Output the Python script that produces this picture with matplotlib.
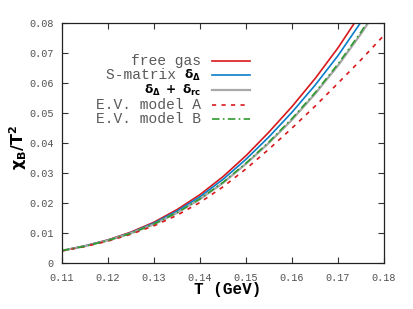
import matplotlib
matplotlib.use("Agg")
import matplotlib.pyplot as plt
from matplotlib.lines import Line2D

# ---- data ----
T = [0.110, 0.115, 0.120, 0.125, 0.130, 0.135, 0.140, 0.145, 0.150,
     0.155, 0.160, 0.165, 0.170, 0.175, 0.180]
free_gas = [0.0041, 0.0057, 0.0077, 0.0103, 0.0136, 0.0178, 0.0228, 0.0288,
            0.0358, 0.0437, 0.0522, 0.0615, 0.0718, 0.0834, 0.0964]
smatrix = [0.0041, 0.0057, 0.0076, 0.0101, 0.0133, 0.0173, 0.0221, 0.0279,
           0.0346, 0.0421, 0.0503, 0.0593, 0.0692, 0.0804, 0.0930]
delta_rc = [0.0041, 0.0056, 0.0075, 0.0099, 0.0129, 0.0167, 0.0213, 0.0267,
            0.0331, 0.0401, 0.0478, 0.0564, 0.0659, 0.0765, 0.0882]
ev_A = [0.0040, 0.0055, 0.0073, 0.0096, 0.0124, 0.0159, 0.0202, 0.0254,
        0.0314, 0.0380, 0.0450, 0.0523, 0.0600, 0.0678, 0.0760]
ev_B = [0.0041, 0.0056, 0.0075, 0.0099, 0.0130, 0.0168, 0.0214, 0.0269,
        0.0333, 0.0404, 0.0482, 0.0568, 0.0664, 0.0771, 0.0890]

labels_plain = ["free gas", "S-matrix ", "", "E.V. model A", "E.V. model B"]
labels_math = ["", r"$\mathbf{\delta_\Delta}$",
               r"$\mathbf{\delta_\Delta\ +\ \delta_{rc}}$", "", ""]

xticks = [0.11, 0.12, 0.13, 0.14, 0.15, 0.16, 0.17, 0.18]
xticklabels = ["0.11", "0.12", "0.13", "0.14", "0.15", "0.16", "0.17", "0.18"]
yticks = [0, 0.01, 0.02, 0.03, 0.04, 0.05, 0.06, 0.07, 0.08]
yticklabels = ["0", "0.01", "0.02", "0.03", "0.04", "0.05", "0.06", "0.07", "0.08"]

# ---- styles ----
RED = "#d7191c"
BLUE = "#0a7dc8"
GRAY = "#a8a8a8"
GREEN = "#2e9a2e"
styles = [
    dict(color=RED, lw=1.2, ls="-"),
    dict(color=BLUE, lw=1.2, ls="-"),
    dict(color=GRAY, lw=1.6, ls="-"),
    dict(color=RED, lw=1.2, ls=(0, (2.5, 3.2))),
    dict(color=GREEN, lw=1.2, ls=(0, (4.5, 2.0, 1.0, 2.0))),
]
series = [free_gas, smatrix, delta_rc, ev_A, ev_B]
math_offsets = [0.0, 0.002, 0.0, 0.0, 0.0]

fig = plt.figure(figsize=(4.13, 3.09), dpi=100)
ax = fig.add_axes([0.150, 0.149, 0.780, 0.776])

for ys, st in zip(series, styles):
    ax.plot(T, ys, solid_capstyle="butt", dash_capstyle="butt", **st)

ax.set_xlim(0.11, 0.18)
ax.set_ylim(0, 0.08)
ax.set_xticks(xticks)
ax.set_xticklabels(xticklabels)
ax.set_yticks(yticks)
ax.set_yticklabels(yticklabels)
ax.tick_params(direction="in", length=4, width=0.8, top=True, right=True,
               labelsize=7.3, colors="#333333")
ax.tick_params(axis="y", pad=6)
ax.tick_params(axis="x", pad=7)
for lab in ax.get_xticklabels() + ax.get_yticklabels():
    lab.set_family("Liberation Mono")
    lab.set_color("#505050")
for s in ax.spines.values():
    s.set_linewidth(0.9)
    s.set_color("#222222")

ax.set_xlabel("T (GeV)", family="Liberation Mono", fontweight="bold", fontsize=11.5)
ax.xaxis.set_label_coords(0.515, -0.08)
ax.set_ylabel(r"$\mathbf{\chi_B/T^2}$", fontsize=11.5)
ax.yaxis.set_label_coords(-0.102, 0.48)

# ---- manual gnuplot-style legend (text right-aligned, sample to the right) ----
fig.canvas.draw()
renderer = fig.canvas.get_renderer()
x_text = 0.433
x_l0, x_l1 = 0.467, 0.583
y0 = 0.843
dy = 0.061
for i, (plain, math, st, off) in enumerate(zip(labels_plain, labels_math, styles, math_offsets)):
    y = y0 - i * dy
    ax.add_line(Line2D([x_l0, x_l1], [y, y], transform=ax.transAxes, **st))
    xr = x_text
    if math:
        t = ax.text(xr, y + off, math, transform=ax.transAxes, ha="right", va="center",
                    fontsize=8.7, color="black")
        bb = t.get_window_extent(renderer)
        inv = ax.transAxes.inverted()
        xr = inv.transform((bb.x0, bb.y0))[0]
    if plain:
        ax.text(xr, y, plain, transform=ax.transAxes, ha="right", va="center",
                family="Liberation Mono", fontsize=10.5, color="#5a5a5a")

fig.savefig("out.png", dpi=100)
